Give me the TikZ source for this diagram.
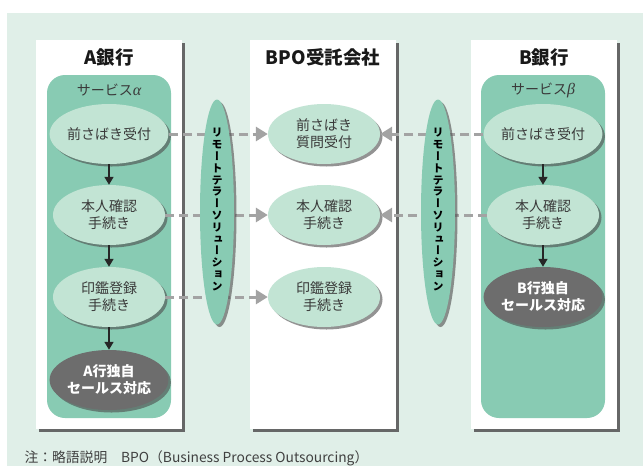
\documentclass[tikz,border=0pt]{standalone}
\usepackage{fontspec}
\setmainfont{Noto Sans CJK JP}
\newfontfamily\vertfont[RawFeature=+vert]{Noto Sans CJK JP}
\newfontfamily\grkfont{Liberation Serif}
\usetikzlibrary{shapes.geometric,shadows,arrows.meta}
\definecolor{bggreen}{HTML}{E0EFE8}
\definecolor{svcgreen}{HTML}{88CBB3}
\definecolor{elfill}{HTML}{C2E4D4}
\definecolor{darkel}{HTML}{6D6D6D}
\definecolor{txt}{HTML}{3A3A3A}
\definecolor{dashgray}{HTML}{A3A3A3}
\begin{document}
\begin{tikzpicture}[x=1pt,y=-1pt,
  boxshadow/.style={drop shadow={shadow xshift=3pt,shadow yshift=-3pt,fill=black!65,opacity=0.9}},
  whitebox/.style={fill=white,boxshadow},
  svcbox/.style={fill=svcgreen,rounded corners=18pt},
  title/.style={font=\bfseries\fontsize{18.5}{22}\selectfont,text=black!90},
  svclabel/.style={font=\fontsize{14}{16}\selectfont,text=txt},
  elshadow/.style={drop shadow={shadow xshift=2.5pt,shadow yshift=-2.5pt,fill=black!70,opacity=0.6}},
  proc/.style={ellipse,fill=elfill,minimum width=112pt,minimum height=60pt,inner sep=0pt,
    align=center,text=txt,font=\fontsize{14}{17}\selectfont,elshadow},
  darkproc/.style={proc,fill=darkel,text=white,font=\bfseries\fontsize{14}{17}\selectfont},
  remote/.style={ellipse,fill=svcgreen,minimum width=34pt,minimum height=225pt,inner sep=0pt,elshadow},
  vtext/.style={font=\vertfont\bfseries\fontsize{11}{11.8}\selectfont,align=center,text=black,inner sep=0pt},
  flow/.style={-{Triangle[length=8pt,width=9pt]},line width=1.6pt,draw=black!85},
  link/.style={-{Triangle[length=12pt,width=14pt]},line width=3pt,draw=dashgray,dash pattern=on 9pt off 5pt}
]
\useasboundingbox (0,0) rectangle (643,467);
\fill[white] (0,0) rectangle (643,467);
\fill[bggreen] (7,13) rectangle (643,466);

% columns
\fill[whitebox] (36,40) rectangle (182,429);
\fill[whitebox] (250,40) rectangle (396,429);
\fill[whitebox] (471,40) rectangle (617,429);
\fill[svcbox] (47,75) rectangle (171,418);
\fill[svcbox] (481,75) rectangle (605,418);

\node[title] (tA) at (109,57) {A銀行};
\node[title] (tP) at (323,57) {BPO受託会社};
\node[title] (tB) at (544,57) {B銀行};
\node[svclabel] (sA) at (109,90) {サービス{\grkfont\itshape\fontsize{16}{16}\selectfont α}};
\node[svclabel] (sB) at (543,90) {サービス{\grkfont\itshape\fontsize{16}{16}\selectfont β}};

% A bank
\node[proc] (a1) at (109,134) {前さばき受付};
\node[proc] (a2) at (109,215) {本人確認\\手続き};
\node[proc] (a3) at (109,297) {印鑑登録\\手続き};
\node[darkproc] (a4) at (109,380) {A行独自\\セールス対応};
% BPO
\node[proc] (p1) at (324,134) {前さばき\\質問受付};
\node[proc] (p2) at (324,215) {本人確認\\手続き};
\node[proc] (p3) at (324,297) {印鑑登録\\手続き};
% B bank
\node[proc] (b1) at (543,134) {前さばき受付};
\node[proc] (b2) at (543,215) {本人確認\\手続き};
\node[darkproc] (b3) at (543,297) {B行独自\\セールス対応};

\draw[flow] (a1) -- (a2);
\draw[flow] (a2) -- (a3);
\draw[flow] (a3) -- (a4);
\draw[flow] (b1) -- (b2);
\draw[flow] (b2) -- (b3);

\draw[link] (a1.east) -- (p1.west);
\draw[link] (a2.east) -- (p2.west);
\draw[link] (a3.east) -- (p3.west);
\draw[link] (b1.west) -- (p1.east);
\draw[link] (b2.west) -- (p2.east);

\node[remote] (rA) at (217,212) {};
\node[remote] (rB) at (438,212) {};
\node[vtext] (vA) at (217,209.5) {リ\\モ\\ー\\ト\\テ\\ラ\\ー\\ソ\\リ\\ュ\\ー\\シ\\ョ\\ン};
\node[vtext] (vB) at (438,209.5) {リ\\モ\\ー\\ト\\テ\\ラ\\ー\\ソ\\リ\\ュ\\ー\\シ\\ョ\\ン};

\node[anchor=west,text=black!75,font=\fontsize{13.8}{16}\selectfont] (note) at (21,458) {注：略語説明　BPO（Business Process Outsourcing）};
\end{tikzpicture}
\end{document}
